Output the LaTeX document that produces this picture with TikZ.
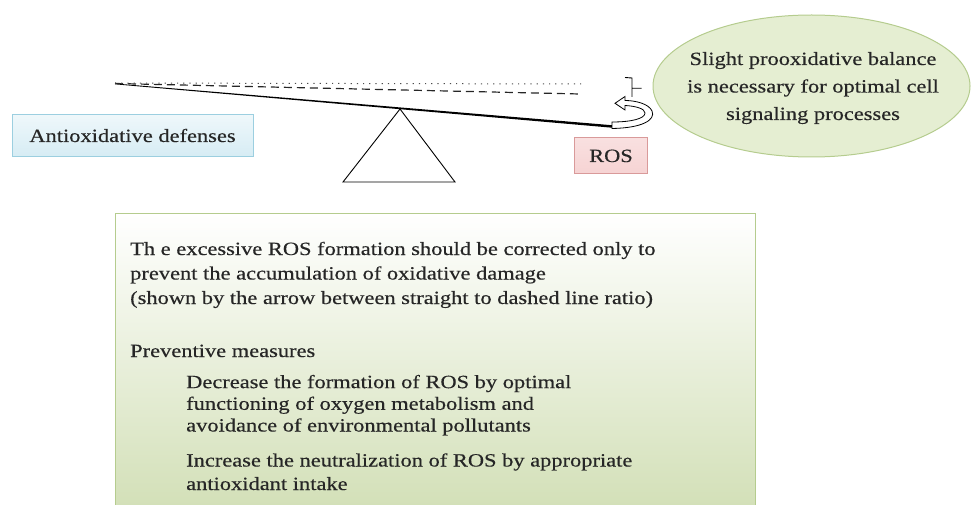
\documentclass[tikz,border=0pt]{standalone}
\usepackage{fontspec}
\setmainfont[FakeStretch=1.2,FakeBold=0.4]{Liberation Serif}
\usetikzlibrary{shapes.geometric}
\definecolor{txt}{HTML}{262626}
\definecolor{bluebd}{HTML}{9CCFE0}
\definecolor{bluefill}{HTML}{D6ECF4}
\definecolor{redbd}{HTML}{D99A9A}
\definecolor{redfill}{HTML}{F6D3D3}
\definecolor{greenbd}{HTML}{B5CC8E}
\definecolor{greenfill}{HTML}{E5EED2}
\definecolor{greenbot}{HTML}{D3E0B8}
\tikzset{
  lbl/.style={text=txt, font=\fontsize{18.7}{22}\selectfont},
  bigtxt/.style={text=txt, font=\fontsize{18.7}{24.5}\selectfont, align=left, anchor=base west, inner sep=0pt},
}
\begin{document}
\begin{tikzpicture}[x=1pt,y=-1pt]
\useasboundingbox (0,0) rectangle (971,505);
% big box
\shade[top color=white, bottom color=greenbot, draw=greenbd, line width=1pt] (115,213) rectangle (755,506);
\node (t1) [bigtxt] at (130,304) {Th e excessive ROS formation should be corrected only to\\prevent the accumulation of oxidative damage\\(shown by the arrow between straight to dashed line ratio)};
\node (t2) [bigtxt] at (130,357) {Preventive measures};
\node (t3) [bigtxt, font=\fontsize{18.7}{21.7}\selectfont] at (186,431.5) {Decrease the formation of ROS by optimal\\functioning of oxygen metabolism and\\avoidance of environmental pollutants};
\node (t4) [bigtxt, font=\fontsize{18.7}{23.5}\selectfont] at (186,490) {Increase the neutralization of ROS by appropriate\\antioxidant intake};
% antioxidative box
\node (anti) [draw=bluebd, line width=1pt, top color=white!60!bluefill, bottom color=bluefill, minimum width=241pt, minimum height=42pt, inner sep=0pt] at (132.5,136) {};
\node (antit) [lbl, anchor=base, inner sep=0pt] at (132.5,142) {Antioxidative defenses};
% ROS box
\node (ros) [draw=redbd, line width=1pt, top color=redfill!70!white, bottom color=redfill, minimum width=73pt, minimum height=36pt, inner sep=0pt] at (610.5,156) {};
\node (rost) [lbl, anchor=base, inner sep=0pt] at (611,162) {ROS};
% ellipse
\node (ell) [ellipse, draw=greenbd, line width=1pt, fill=greenfill, minimum width=317pt, minimum height=142pt, inner sep=0pt] at (811.5,86) {};
\node (ellt) [lbl, anchor=base, align=center, inner sep=0pt, font=\fontsize{18.7}{27.5}\selectfont] at (813,120) {Slight prooxidative balance\\is necessary for optimal cell\\signaling processes};
% seesaw
\coordinate (L) at (115,83.5);
\coordinate (R) at (613,126.5);
\coordinate (apex) at (400,109);
\draw[line width=0.9pt] (343,182) -- (apex) -- (455,182) -- cycle;
\fill[black] (L) -- (613,125.3) -- (613,127.8) -- (115,84.3) -- cycle;
\coordinate (Dend) at (580,94);
\coordinate (Oend) at (583,84);
\draw[line width=1.2pt, dash pattern=on 8pt off 5pt, black!85] (L) -- (Dend);
\draw[line width=1pt, dash pattern=on 1.2pt off 5pt, black!70] (115,83) -- (Oend);
% bracket
\draw[line width=0.9pt] (625,77.5) -- (632,78) -- (632,97) (632,88.3) -- (641.5,88.3);
% curved hollow arrow
\draw[line width=0.8pt, fill=white] (612,128.5) .. controls (642,128) and (656,120) .. (652,111) .. controls (649,104) and (636,100.5) .. (625,100.5) -- (625,96.5) -- (615,103.3) -- (625,110) -- (625,105.5) .. controls (635,106) and (645,108.5) .. (645,113) .. controls (645,118.5) and (632,122) .. (612,122) -- cycle;
\end{tikzpicture}
\end{document}
